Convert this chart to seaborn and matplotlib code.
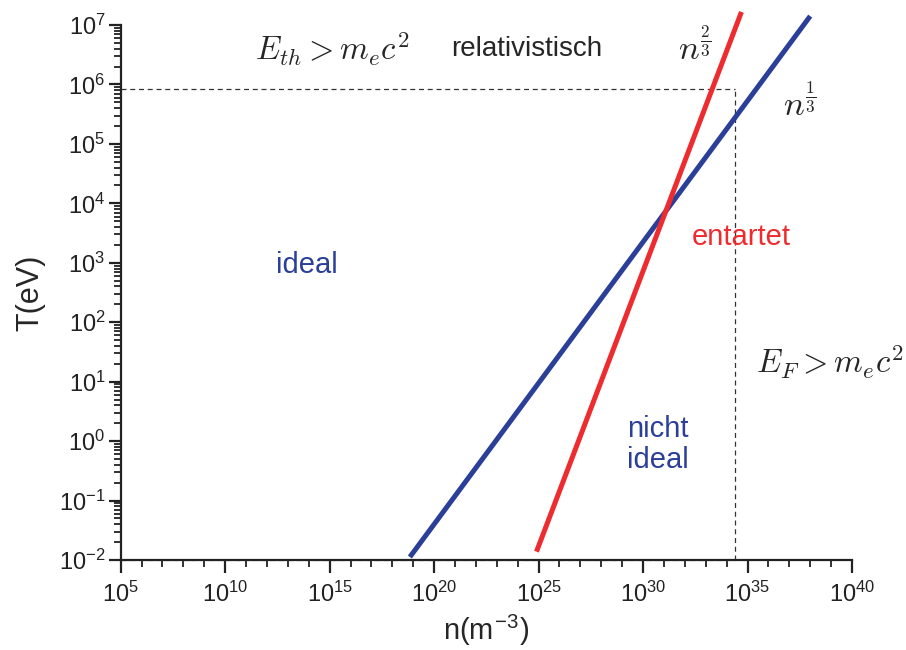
import numpy as np
import pandas as pd
import matplotlib
matplotlib.use("Agg")
import matplotlib.pyplot as plt
import seaborn as sns
from matplotlib.ticker import LogLocator, FixedLocator, NullFormatter

# ---- data ----
n_ideal = [10**18.84, 10**38.0]        # blue boundary ideal / nicht ideal (~n^1/3 label)
T_ideal = [10**-1.95, 10**7.15]
n_degen = [10**24.9, 10**34.71]        # red boundary entartet (~n^2/3 label)
T_degen = [10**-1.86, 10**7.22]
n_rel = 10**34.4                       # vertical dashed: E_F > m_e c^2
T_rel = 8.5e5                          # horizontal dashed: E_th > m_e c^2
x_ticks = [1e5, 1e10, 1e15, 1e20, 1e25, 1e30, 1e35, 1e40]
x_tick_labels = [r"$\mathregular{10^{%d}}$" % e for e in [5, 10, 15, 20, 25, 30, 35, 40]]
y_ticks = [1e-2, 1e-1, 1e0, 1e1, 1e2, 1e3, 1e4, 1e5, 1e6, 1e7]
y_tick_labels = [r"$\mathregular{10^{%d}}$" % e for e in [-2, -1, 0, 1, 2, 3, 4, 5, 6, 7]]

df = pd.DataFrame({
    "n": n_ideal + n_degen,
    "T": T_ideal + T_degen,
    "curve": ["ideal"] * 2 + ["entartet"] * 2,
})

sns.set_theme(style="ticks")
plt.rcParams["font.family"] = ["Liberation Sans", "DejaVu Sans"]
plt.rcParams["mathtext.fontset"] = "cm"

BLUE = "#2B3F99"
RED = "#EE2B2E"

fig = plt.figure(figsize=(9.06, 6.5), dpi=100)
ax = fig.add_axes([0.1332, 0.1385, 0.8072, 0.823])

sns.lineplot(data=df, x="n", y="T", hue="curve", palette={"ideal": BLUE, "entartet": RED},
             linewidth=3.6, legend=False, ax=ax, sort=False, estimator=None)
for ln in ax.lines:
    ln.set_clip_on(False)
    ln.set_solid_capstyle("butt")

# dashed boundaries
ax.plot([1e5, n_rel], [T_rel, T_rel], ls=(0, (4, 3)), color="#333333", lw=0.9, zorder=1)
ax.plot([n_rel, n_rel], [1e-2, T_rel], ls=(0, (4, 3)), color="#333333", lw=0.9, zorder=1)
ax.plot([1e5, n_rel], [1e-2, 1e-2], ls=(0, (4, 3)), color="#888888", lw=0.9, zorder=1, clip_on=False)

ax.set_xscale("log")
ax.set_yscale("log")
ax.set_xlim(1e5, 1e40)
ax.set_ylim(1e-2, 1e7)

ax.xaxis.set_major_locator(FixedLocator(x_ticks))
ax.set_xticklabels(x_tick_labels)
ax.xaxis.set_minor_locator(FixedLocator([10.0**k for k in range(5, 41)]))
ax.xaxis.set_minor_formatter(NullFormatter())
ax.yaxis.set_major_locator(FixedLocator(y_ticks))
ax.set_yticklabels(y_tick_labels)
ax.yaxis.set_minor_locator(LogLocator(base=10, subs=np.arange(2, 10), numticks=100))
ax.yaxis.set_minor_formatter(NullFormatter())

ax.tick_params(axis="both", which="major", direction="out", length=9, width=1.6,
               labelsize=17, color="#222222", labelcolor="#222222")
ax.tick_params(axis="y", which="major", pad=2)
ax.tick_params(axis="x", which="major", pad=7)
ax.tick_params(axis="both", which="minor", direction="out", length=5, width=1.3, color="#222222")
for s in ["top", "right"]:
    ax.spines[s].set_visible(False)
for s in ["left", "bottom"]:
    ax.spines[s].set_linewidth(1.6)
    ax.spines[s].set_color("#222222")

ax.set_xlabel(r"n(m$^{\mathregular{-3}}$)", fontsize=21, labelpad=4)
ax.set_ylabel("T(eV)", fontsize=22, labelpad=10)

# annotations
ax.text(10**15.1, 10**6.59, r"$E_{th} > m_e c^2$", fontsize=23.5, ha="center", va="center")
ax.text(10**24.44, 10**6.59, "relativistisch", fontsize=20, ha="center", va="center")
ax.text(10**32.47, 10**6.62, r"$n^{\frac{2}{3}}$", fontsize=25, ha="center", va="center")
ax.text(10**37.5, 10**5.69, r"$n^{\frac{1}{3}}$", fontsize=25, ha="center", va="center")
ax.text(10**34.68, 10**3.44, "entartet", fontsize=21, color=RED, ha="center", va="center")
ax.text(10**13.91, 10**2.97, "ideal", fontsize=21, color=BLUE, ha="center", va="center")
ax.text(10**30.71, 10**-0.06, "nicht\nideal", fontsize=21, color=BLUE, ha="center", va="center",
        multialignment="left", linespacing=1.15)
ax.text(10**38.93, 10**1.33, r"$E_F > m_e c^2$", fontsize=23.5, ha="center", va="center", clip_on=False)

fig.savefig("out.png", dpi=100)
